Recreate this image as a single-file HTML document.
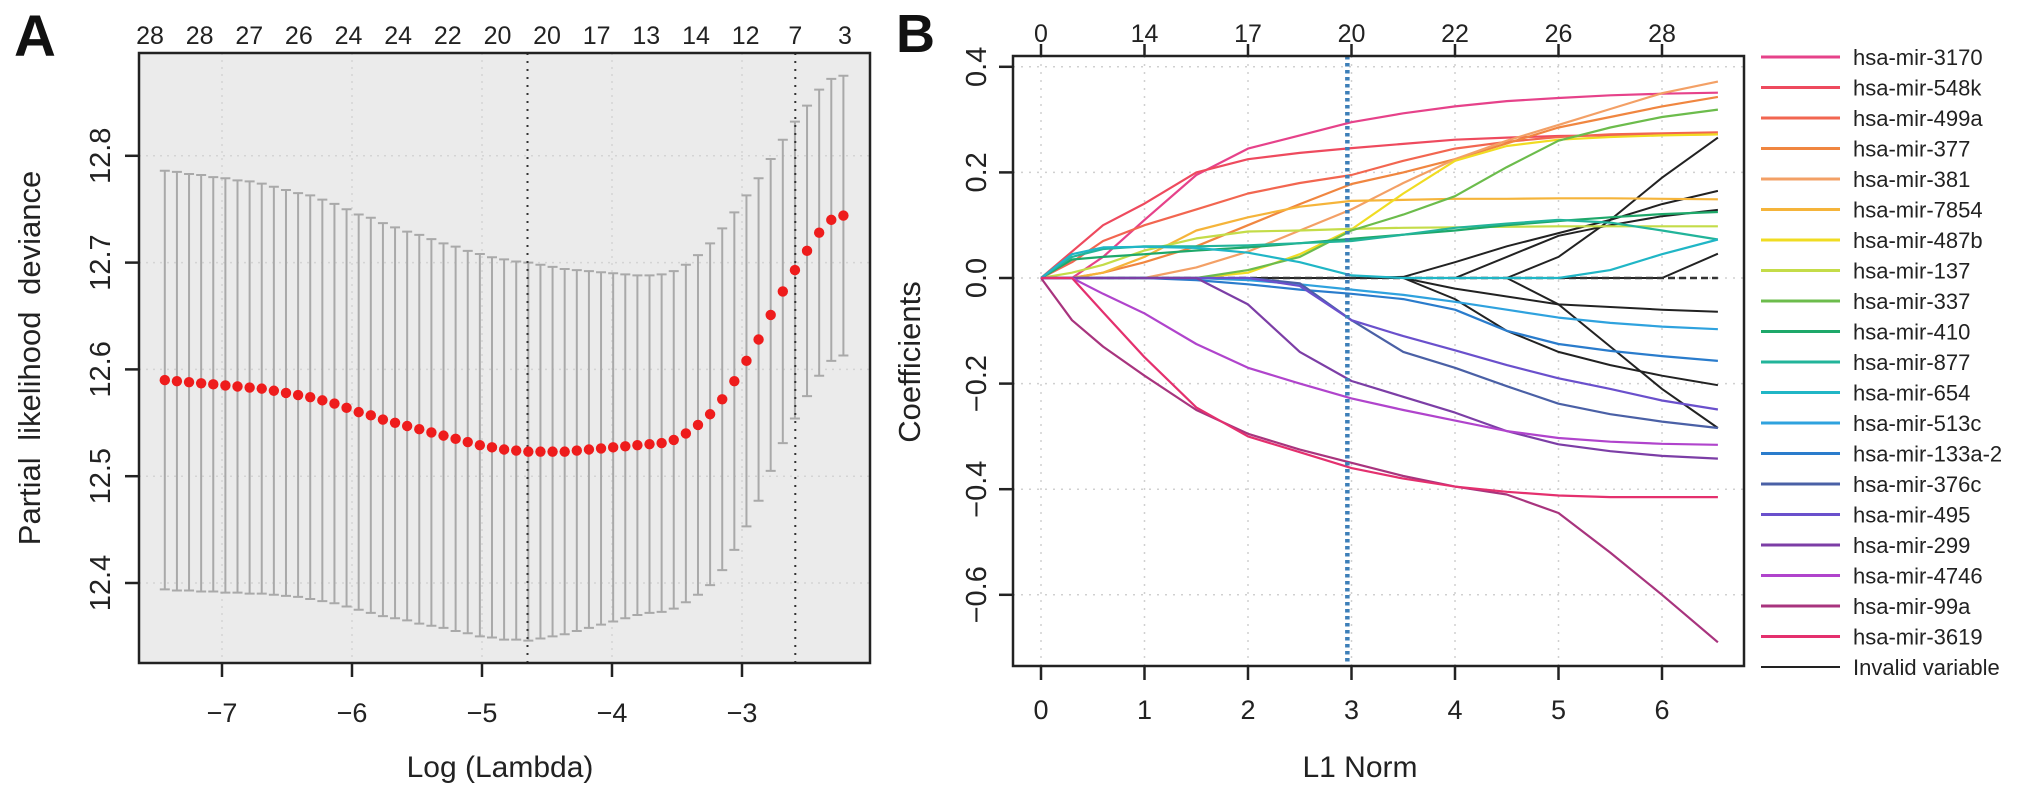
<!DOCTYPE html>
<html><head><meta charset="utf-8"><title>LASSO Cox regression</title>
<style>
html,body{margin:0;padding:0;background:#fff;}
svg{display:block;font-family:"Liberation Sans",Arial,sans-serif;}
</style></head>
<body>
<svg id="fig" width="2031" height="797" viewBox="0 0 2031 797" xmlns="http://www.w3.org/2000/svg">
  <g id="panelA"></g>
  <g id="panelB"></g>
</svg>
<script>
// ---------- Panel A data ----------
const aMeans = [12.590,12.589,12.588,12.587,12.586,12.585,12.584,12.583,12.582,12.580,
12.578,12.576,12.574,12.571,12.568,12.564,12.560,12.557,12.553,12.550,
12.547,12.544,12.541,12.538,12.535,12.532,12.529,12.527,12.525,12.524,
12.523,12.523,12.523,12.523,12.524,12.525,12.526,12.527,12.528,12.529,
12.530,12.531,12.534,12.540,12.548,12.558,12.572,12.589,12.608,12.628,
12.651,12.673,12.693,12.711,12.728,12.740,12.744];
const aSD = [0.196,0.196,0.195,0.195,0.194,0.194,0.193,0.193,0.192,0.191,
0.190,0.189,0.189,0.188,0.187,0.186,0.185,0.185,0.184,0.183,
0.182,0.182,0.181,0.180,0.180,0.179,0.179,0.178,0.178,0.177,
0.177,0.175,0.173,0.171,0.169,0.167,0.165,0.163,0.161,0.159,
0.158,0.158,0.158,0.158,0.159,0.160,0.160,0.158,0.155,0.151,
0.146,0.142,0.139,0.136,0.134,0.132,0.131];
const aLogLambdaStart = -7.44, aLogLambdaEnd = -2.22;
const aTopLabels = ["28","28","27","26","24","24","22","20","20","17","13","14","12","7","3"];
const aTopLabelLambda = [-7.554,-7.172,-6.790,-6.409,-6.027,-5.645,-5.263,-4.881,-4.500,-4.118,-3.736,-3.354,-2.972,-2.590,-2.208];
const aXTicks = [-7,-6,-5,-4,-3];
const aYTicks = [12.4,12.5,12.6,12.7,12.8];
const aVLines = [-4.65,-2.59];

// ---------- Panel B data ----------
const bKnots = [0,0.3,0.6,1,1.5,2,2.5,3,3.5,4,4.5,5,5.5,6,6.54];
const bNames = ["hsa-mir-3170","hsa-mir-548k","hsa-mir-499a","hsa-mir-377","hsa-mir-381","hsa-mir-7854","hsa-mir-487b","hsa-mir-137","hsa-mir-337","hsa-mir-410","hsa-mir-877","hsa-mir-654","hsa-mir-513c","hsa-mir-133a-2","hsa-mir-376c","hsa-mir-495","hsa-mir-299","hsa-mir-4746","hsa-mir-99a","hsa-mir-3619"];
const bColors = ["#e6428a","#ee4a5e","#f26650","#f08640","#f3a066","#f5b43a","#f0dc22","#c4dc48","#6cbc4c","#1ea86a","#22b49a","#20b6c6","#2fa2de","#2a7ccc","#4a60a6","#6a50cc","#7c3ea6","#b044cc","#a8347e","#e4306e"];
const s3170 = [0,0,0.04,0.11,0.195,0.245,0.27,0.295,0.312,0.325,0.335,0.341,0.346,0.349,0.351];
const s548k = [0,0.05,0.1,0.141,0.2,0.225,0.237,0.246,0.254,0.262,0.266,0.269,0.27,0.271,0.272];
const s499a = [0,0.03,0.07,0.1,0.13,0.16,0.18,0.195,0.222,0.245,0.258,0.267,0.272,0.274,0.276];
const s377 = [0,0,0.01,0.03,0.06,0.1,0.14,0.178,0.2,0.225,0.255,0.285,0.305,0.325,0.343];
const s381 = [0,0,0,0,0.02,0.05,0.09,0.13,0.18,0.225,0.26,0.29,0.32,0.35,0.372];
const s7854 = [0,0,0.01,0.04,0.09,0.115,0.135,0.146,0.148,0.15,0.15,0.151,0.151,0.15,0.149];
const s487b = [0,0,0,0,0,0.01,0.045,0.092,0.16,0.222,0.25,0.262,0.267,0.27,0.272];
const s137 = [0,0.01,0.025,0.052,0.075,0.088,0.09,0.093,0.095,0.096,0.097,0.098,0.098,0.098,0.098];
const s337 = [0,0,0,0,0,0.015,0.04,0.09,0.12,0.155,0.21,0.26,0.285,0.305,0.319];
const s410 = [0,0.035,0.04,0.045,0.052,0.058,0.066,0.074,0.082,0.09,0.1,0.108,0.115,0.121,0.125];
const s877 = [0,0.04,0.055,0.06,0.06,0.062,0.066,0.07,0.082,0.095,0.103,0.11,0.105,0.09,0.073];
const s654 = [0,0.045,0.058,0.059,0.057,0.048,0.03,0.005,0,0,0,0,0.015,0.045,0.073];
const s513c = [0,0,0,0,0,-0.004,-0.012,-0.022,-0.032,-0.045,-0.06,-0.075,-0.085,-0.092,-0.097];
const s133a2 = [0,0,0,0,-0.004,-0.012,-0.022,-0.03,-0.04,-0.06,-0.1,-0.125,-0.138,-0.148,-0.157];
const s376c = [0,0,0,0,0,0,-0.01,-0.08,-0.14,-0.17,-0.205,-0.238,-0.258,-0.272,-0.284];
const s495 = [0,0,0,0,0,0,-0.015,-0.08,-0.11,-0.137,-0.165,-0.19,-0.21,-0.232,-0.249];
const s299 = [0,0,0,0,0,-0.05,-0.14,-0.195,-0.225,-0.255,-0.29,-0.315,-0.328,-0.337,-0.342];
const s4746 = [0,0,-0.03,-0.067,-0.125,-0.17,-0.2,-0.228,-0.25,-0.27,-0.29,-0.303,-0.31,-0.314,-0.316];
const s99a = [0,-0.08,-0.13,-0.185,-0.25,-0.295,-0.325,-0.35,-0.375,-0.395,-0.41,-0.445,-0.52,-0.6,-0.69];
const s3619 = [0,0,-0.065,-0.15,-0.245,-0.3,-0.33,-0.36,-0.38,-0.395,-0.405,-0.412,-0.415,-0.415,-0.415];
const bSeries = [s3170,s548k,s499a,s377,s381,s7854,s487b,s137,s337,s410,s877,s654,s513c,s133a2,s376c,s495,s299,s4746,s99a,s3619];
const blk1 = [0,0,0,0,0,0,0,0,0.002,0.03,0.06,0.085,0.11,0.14,0.165];
const blk2 = [0,0,0,0,0,0,0,0,0,0,0.04,0.08,0.1,0.117,0.129];
const blk3 = [0,0,0,0,0,0,0,0,0,0,0,0.04,0.11,0.19,0.266];
const blk4 = [0,0,0,0,0,0,0,0,0,0,0,0,0,0,0.046];
const blk5 = [0,0,0,0,0,0,0,0,0,-0.02,-0.035,-0.05,-0.055,-0.06,-0.064];
const blk6 = [0,0,0,0,0,0,0,0,0,-0.04,-0.1,-0.14,-0.165,-0.185,-0.203];
const blk7 = [0,0,0,0,0,0,0,0,0,0,0,-0.05,-0.13,-0.21,-0.284];
const bBlack = [blk1,blk2,blk3,blk4,blk5,blk6,blk7];
const bXTicks = [0,1,2,3,4,5,6];
const bTopLabels = ["0","14","17","20","22","26","28"];
const bYTicks = [-0.6,-0.4,-0.2,0.0,0.2,0.4];
const bYTickLabels = ["\u22120.6","\u22120.4","\u22120.2","0.0","0.2","0.4"];
const bCutoff = 2.96;

const NS = "http://www.w3.org/2000/svg";
function mk(parent, tag, attrs, text){
  const e = document.createElementNS(NS, tag);
  for (const k in attrs) e.setAttribute(k, attrs[k]);
  if (text !== undefined) e.textContent = text;
  parent.appendChild(e);
  return e;
}

// ===== Panel A =====
(function(){
  const g = document.getElementById('panelA');
  const L=139, R=870, T=53, B=663;
  const xA = v => 222 + (v + 7) * 130;
  const yA = v => 583 - (v - 12.4) * 1068;
  let e;
  e = mk(g,'rect',{x:L,y:T,width:R-L,height:B-T,fill:'#ebebeb'});
   
  const grid = mk(g,'g',{});
   
  aXTicks.forEach(t=>{ mk(grid,'line',{x1:xA(t),x2:xA(t),y1:T,y2:B,stroke:'#d4d4d4','stroke-width':1.5,'stroke-dasharray':'2 5'}); });
  aYTicks.forEach(t=>{ mk(grid,'line',{x1:L,x2:R,y1:yA(t),y2:yA(t),stroke:'#d4d4d4','stroke-width':1.5,'stroke-dasharray':'2 5'}); });
  // error bars
  const n = aMeans.length;
  const step = (aLogLambdaEnd - aLogLambdaStart)/(n-1);
  const bars = mk(g,'g',{stroke:'#a9a9a9','stroke-width':2,fill:'none'});
   
  for (let i=0;i<n;i++){
    const x = xA(aLogLambdaStart + i*step);
    const up = yA(aMeans[i]+aSD[i]), lo = yA(aMeans[i]-aSD[i]);
    const b = mk(bars,'path',{d:`M${x},${up}V${lo}M${x-5},${up}H${x+5}M${x-5},${lo}H${x+5}`});
     
  }
  aVLines.forEach(v=>{
    const l = mk(g,'line',{x1:xA(v),x2:xA(v),y1:T,y2:B,stroke:'#333','stroke-width':2,'stroke-dasharray':'2 6'});
     
  });
  const pts = mk(g,'g',{fill:'#ee1c1c'});
   
  for (let i=0;i<n;i++){
    const c = mk(pts,'circle',{cx:xA(aLogLambdaStart + i*step),cy:yA(aMeans[i]),r:5.2});
     
  }
  e = mk(g,'rect',{x:L,y:T,width:R-L,height:B-T,fill:'none',stroke:'#222','stroke-width':2.5});
   
  // x axis
  const xa = mk(g,'g',{});
   
  aXTicks.forEach(t=>{
    mk(xa,'line',{x1:xA(t),x2:xA(t),y1:B,y2:B+14,stroke:'#222','stroke-width':2.5});
    const tx = mk(xa,'text',{x:xA(t),y:722,'font-size':27,'text-anchor':'middle',fill:'#222'},'\u2212'+Math.abs(t));
     
  });
  e = mk(g,'text',{x:500,y:777,'font-size':30,'text-anchor':'middle',fill:'#222'},'Log (Lambda)');
   
  // y axis
  const ya = mk(g,'g',{});
   
  aYTicks.forEach(t=>{
    mk(ya,'line',{x1:L-14,x2:L,y1:yA(t),y2:yA(t),stroke:'#222','stroke-width':2.5});
    const tx = mk(ya,'text',{x:0,y:0,'font-size':29,'text-anchor':'middle',fill:'#222',transform:`translate(110,${yA(t)}) rotate(-90)`},t.toFixed(1));
     
  });
  e = mk(g,'text',{x:0,y:0,'font-size':31,'text-anchor':'middle',fill:'#222',transform:'translate(40,358) rotate(-90)','word-spacing':'8'},'Partial  likelihood deviance');
   
  // top labels
  const ta = mk(g,'g',{});
   
  aTopLabels.forEach((lab,i)=>{
    const tx = mk(ta,'text',{x:xA(aTopLabelLambda[i]),y:44,'font-size':25,'text-anchor':'middle',fill:'#222'},lab);
     
  });
  e = mk(g,'text',{x:14,y:56,'font-size':58,'font-weight':'bold',fill:'#111'},'A');
   
})();

// ===== Panel B =====
(function(){
  const g = document.getElementById('panelB');
  const L=1013, R=1744, T=56, B=666;
  const xB = v => 1041 + v * 103.5;
  const yB = v => 278 - v * 528;
  let e;
  const grid = mk(g,'g',{});
   
  bXTicks.forEach(t=>{ mk(grid,'line',{x1:xB(t),x2:xB(t),y1:T,y2:B,stroke:'#d0d0d0','stroke-width':1.5,'stroke-dasharray':'2 6'}); });
  bYTicks.forEach(t=>{ mk(grid,'line',{x1:L,x2:R,y1:yB(t),y2:yB(t),stroke:'#d0d0d0','stroke-width':1.5,'stroke-dasharray':'2 6'}); });
  const path = arr => arr.map((v,i)=>(i?'L':'M')+xB(bKnots[i]).toFixed(1)+','+yB(v).toFixed(1)).join('');
  const blk = mk(g,'g',{fill:'none',stroke:'#222','stroke-width':2});
   
  bBlack.forEach(s=>{
    const p = mk(blk,'path',{d:path(s)});
     
  });
  const zl = mk(g,'line',{x1:xB(0),x2:xB(bKnots[bKnots.length-1]),y1:yB(0),y2:yB(0),stroke:'#333','stroke-width':2.5,'stroke-dasharray':'7 4'});
   
  const cg = mk(g,'g',{fill:'none','stroke-width':2.2});
   
  bSeries.forEach((s,i)=>{
    const p = mk(cg,'path',{d:path(s),stroke:bColors[i],'stroke-linejoin':'round'});
     
  });
  e = mk(g,'line',{x1:xB(bCutoff),x2:xB(bCutoff),y1:T,y2:B,stroke:'#3d7fb8','stroke-width':4.5,'stroke-dasharray':'3.5 3.5'});
   
  e = mk(g,'rect',{x:L,y:T,width:R-L,height:B-T,fill:'none',stroke:'#222','stroke-width':2.5});
   
  const xa = mk(g,'g',{});
   
  bXTicks.forEach((t,i)=>{
    mk(xa,'line',{x1:xB(t),x2:xB(t),y1:B,y2:B+14,stroke:'#222','stroke-width':2.5});
    const tx = mk(xa,'text',{x:xB(t),y:719,'font-size':27,'text-anchor':'middle',fill:'#222'},String(t));
     
    mk(xa,'line',{x1:xB(t),x2:xB(t),y1:T-12,y2:T,stroke:'#222','stroke-width':2.5});
    const tt = mk(xa,'text',{x:xB(t),y:42,'font-size':25,'text-anchor':'middle',fill:'#222'},bTopLabels[i]);
     
  });
  e = mk(g,'text',{x:1360,y:777,'font-size':30,'text-anchor':'middle',fill:'#222'},'L1 Norm');
   
  const ya = mk(g,'g',{});
   
  bYTicks.forEach((t,i)=>{
    mk(ya,'line',{x1:L-14,x2:L,y1:yB(t),y2:yB(t),stroke:'#222','stroke-width':2.5});
    const tx = mk(ya,'text',{x:0,y:0,'font-size':29,'text-anchor':'middle',fill:'#222',transform:`translate(986,${yB(t)}) rotate(-90)`},bYTickLabels[i]);
     
  });
  e = mk(g,'text',{x:0,y:0,'font-size':31,'text-anchor':'middle',fill:'#222',transform:'translate(920,362) rotate(-90)'},'Coefficients');
   
  e = mk(g,'text',{x:896,y:52,'font-size':54,'font-weight':'bold',fill:'#111'},'B');
   
  // legend
  const lg = mk(g,'g',{});
   
  const names = bNames.concat(['Invalid variable']);
  const cols = bColors.concat(['#222']);
  names.forEach((nm,i)=>{
    const y = 57 + i*30.5;
    const it = mk(lg,'g',{});
     
    mk(it,'line',{x1:1761,x2:1840,y1:y,y2:y,stroke:cols[i],'stroke-width':i<20?3:2});
    mk(it,'text',{x:1853,y:y+8,'font-size':22,fill:'#222'},nm);
  });
})();
</script>
</body></html>
